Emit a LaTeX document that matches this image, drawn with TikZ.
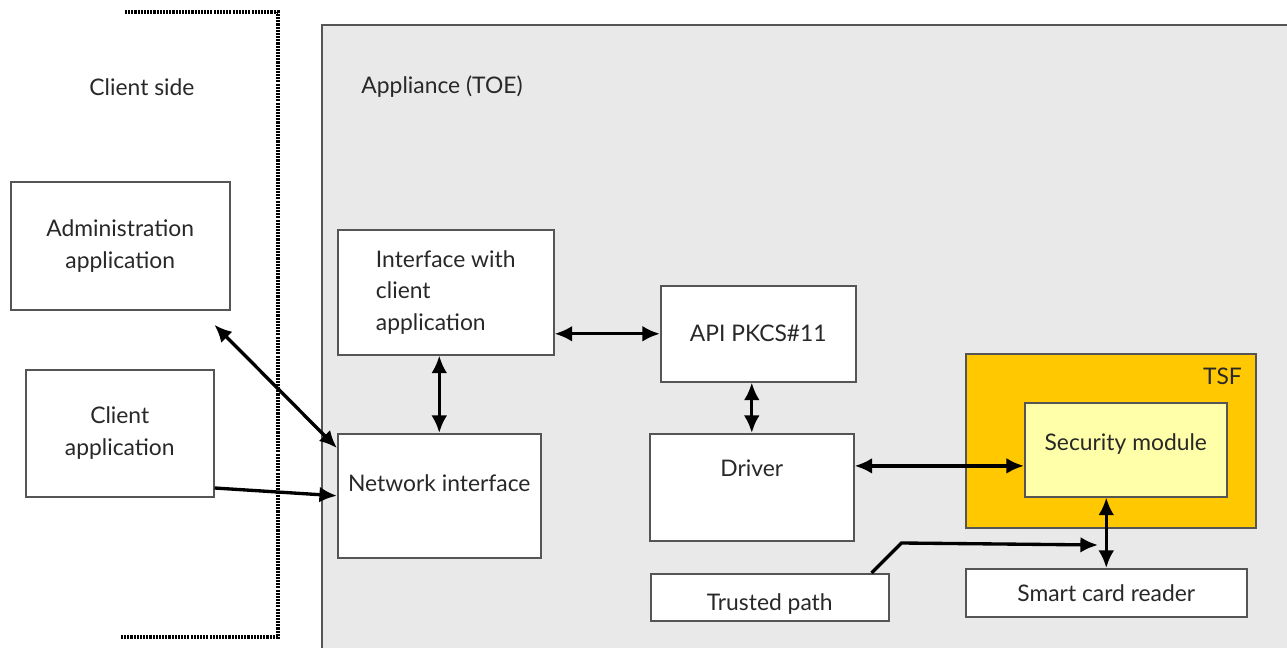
\documentclass[tikz,border=0pt]{standalone}
\usepackage{fontspec}
\setmainfont{Lato}
\usetikzlibrary{arrows.meta}

\definecolor{applgray}{RGB}{233,233,233}
\definecolor{tsfgold}{RGB}{255,200,0}
\definecolor{modyellow}{RGB}{255,255,170}
\definecolor{edgegray}{RGB}{85,85,85}
\definecolor{textgray}{RGB}{40,40,40}

\begin{document}
\begin{tikzpicture}[x=0.02cm, y=-0.02cm,
    font=\fontsize{13}{18}\selectfont, text=textgray,
    box/.style={draw=edgegray, line width=0.9pt, fill=white, anchor=north west, inner sep=0pt},
    link/.style={line width=1.9pt, {Latex[length=10pt,width=9pt]}-{Latex[length=10pt,width=9pt]}},
    onelink/.style={line width=1.9pt, -{Latex[length=10pt,width=9pt]}}]
\useasboundingbox (0,0) rectangle (1287,648);

%Areas
\fill[applgray] (322,25) rectangle (1300,660);
\draw[edgegray, line width=0.9pt] (1300,25) -- (322,25) -- (322,660);
\draw[line width=2pt, dash pattern=on 1.2pt off 0.6pt]
    (125,12) -- (278,12) -- (278,637) -- (120,637);
\node[]     (client side)   at (142,87)     {Client side};
\node[]     (appliance)     at (442,87)     {Appliance (TOE)};

%Nodes
\node[box, minimum width=4.38cm, minimum height=2.56cm, align=center]
            (admin)     at (10,181)     {Administration\\application};
\node[box, minimum width=3.76cm, minimum height=2.54cm, align=center]
            (client)    at (25,369)     {Client\\application};
\node[box, minimum width=4.32cm, minimum height=2.5cm, align=left]
            (iface)     at (337,229)    {Interface with\\client\\application};
\node[box, minimum width=3.9cm, minimum height=1.92cm]
            (api)       at (660,285)    {API PKCS\#11};
\node[box, minimum width=4.06cm, minimum height=2.48cm, text depth=0.5cm]
            (net)       at (337,433)    {Network interface};
\node[box, minimum width=4.08cm, minimum height=2.14cm, text depth=0.75cm]
            (driver)    at (649,433)    {Driver};
\node[box, fill=tsfgold, minimum width=5.8cm, minimum height=3.48cm]
            (tsf)       at (965,353)    {};
\node[anchor=north east]
            (tsf label) at (1248,362)   {TSF};
\node[box, fill=modyellow, minimum width=4.04cm, minimum height=1.88cm, text depth=0.3cm]
            (secmod)    at (1024,402)   {Security module};
\node[box, minimum width=4.76cm, minimum height=0.94cm, text height=0.6cm]
            (trusted)   at (650,573)    {Trusted path};
\node[box, minimum width=5.62cm, minimum height=0.96cm]
            (reader)    at (965,568)    {Smart card reader};
\coordinate (tp end)    at (1098,545);

%Lines
\draw[link, shorten <=0.4cm]    (admin.-39) -- (net.155);
\draw[onelink]  (client.-30) -- (net.west);
\draw[link]     (iface.south -| net.north) -- (net.north);
\draw[link]     (iface.east |- api.west) -- (api.west);
\draw[link]     (api.south -| driver.north) -- (driver.north);
\draw[link]     (driver.east |- secmod.189) -- (secmod.189);
\draw[link]     (secmod.south -| reader.north) -- (reader.north);
\draw[onelink]  ([xshift=-0.36cm]trusted.north east) -- ++(30,-30) -- (tp end);
\end{tikzpicture}
\end{document}
